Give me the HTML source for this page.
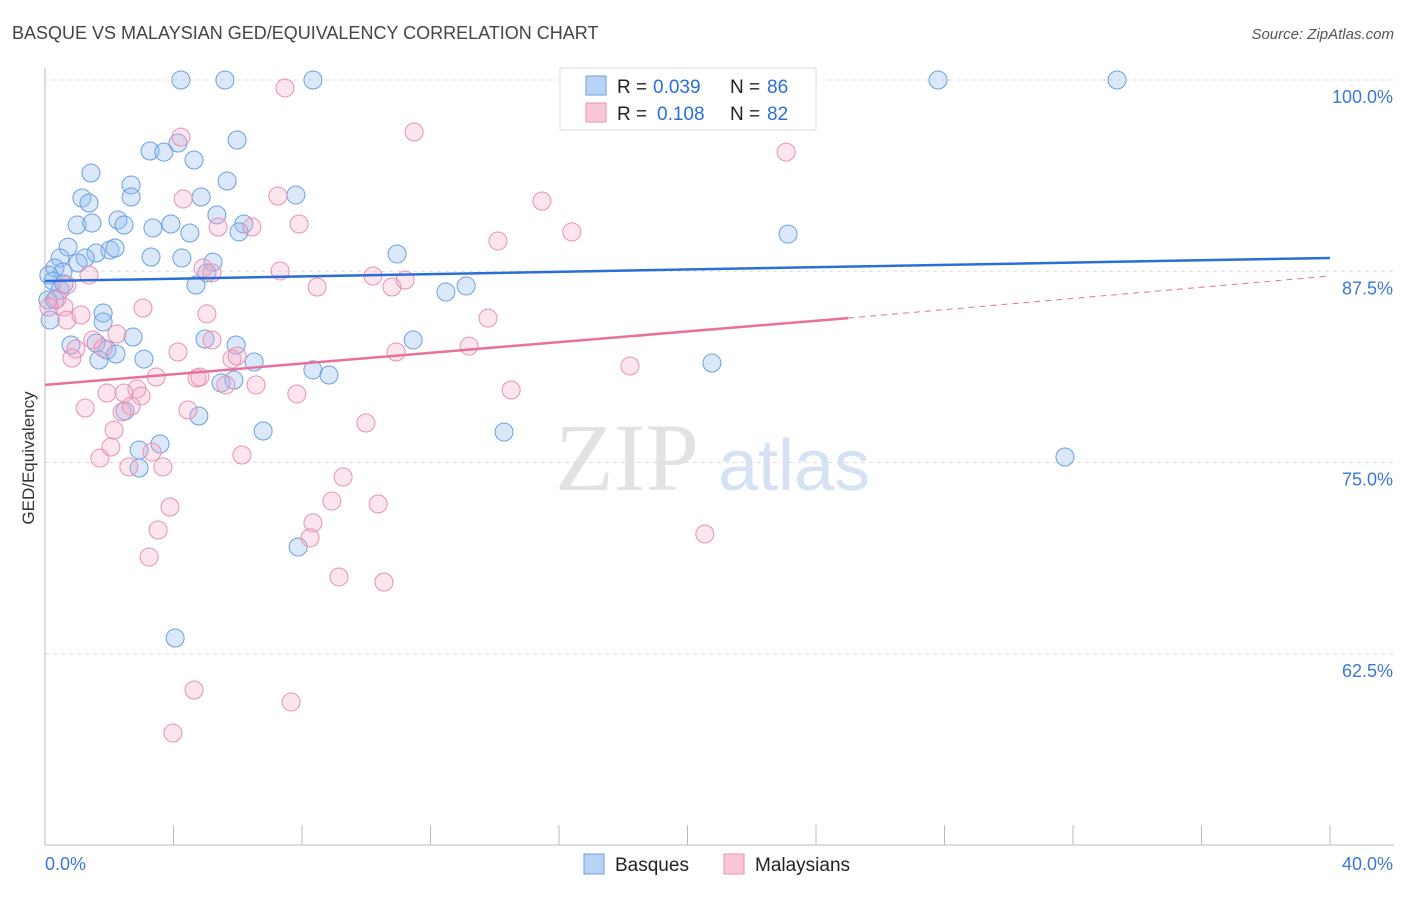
<!DOCTYPE html>
<html><head><meta charset="utf-8"><style>
body{margin:0;background:#fff;font-family:"Liberation Sans",sans-serif}
#wrap{position:relative;width:1406px;height:892px}
</style></head><body>
<div id="wrap">
<svg id="svg" width="1406" height="892" xmlns="http://www.w3.org/2000/svg" font-family="Liberation Sans, sans-serif">
<text x="12" y="39" font-size="18" fill="#444">BASQUE VS MALAYSIAN GED/EQUIVALENCY CORRELATION CHART</text>
<text x="1394" y="39" font-size="15" fill="#555" font-style="italic" text-anchor="end">Source: ZipAtlas.com</text>
<text x="34" y="458" font-size="17" fill="#333" transform="rotate(-90 34 458)" text-anchor="middle">GED/Equivalency</text>
<g><text x="555" y="490" font-size="96" fill="#e2e2e2" font-family="Liberation Serif, serif">ZIP</text><text x="718" y="490" font-size="72" fill="#d5e2f4">atlas</text></g>
<g id="grid"></g><g id="axes"></g><g id="pts"></g><g id="lines"></g>
<g>
<rect x="560" y="68" width="256" height="62" fill="#fff" stroke="#ddd"/>
<rect x="586" y="76" width="20" height="19" fill="#b9d3f6" stroke="#6a9fe0"/>
<text x="617" y="93" font-size="19" fill="#222">R =</text>
<text x="653" y="93" font-size="19" fill="#2a6fd8">0.039</text>
<text x="730" y="93" font-size="19" fill="#222">N =</text>
<text x="767" y="93" font-size="19" fill="#2a6fd8">86</text>
<rect x="586" y="103" width="20" height="19" fill="#f9c7d8" stroke="#e890b0"/>
<text x="617" y="120" font-size="19" fill="#222">R =</text>
<text x="657" y="120" font-size="19" fill="#2a6fd8">0.108</text>
<text x="730" y="120" font-size="19" fill="#222">N =</text>
<text x="767" y="120" font-size="19" fill="#2a6fd8">82</text>
</g>
<g>
<rect x="584" y="854" width="20" height="20" fill="#b9d3f6" stroke="#6a9fe0"/>
<text x="615" y="871" font-size="19" fill="#222">Basques</text>
<rect x="724" y="854" width="20" height="20" fill="#f9c7d8" stroke="#e890b0"/>
<text x="755" y="871" font-size="19" fill="#222">Malaysians</text>
</g>
</svg></div>
<script>
const xTicks=[0,40];
const yTicks=[100,87.5,75,62.5];
const blueX=[4.23,5.60,8.34,27.80,33.37,5.98,3.27,3.70,4.14,4.64,1.43,5.67,2.68,7.81,1.15,4.86,1.37,2.68,5.35,2.27,1.00,1.46,2.46,3.92,3.36,6.19,6.04,4.51,23.13,0.72,2.02,2.18,1.59,3.30,10.96,0.47,1.25,1.03,4.26,5.23,0.31,0.56,0.12,5.04,4.70,0.25,0.59,12.48,13.11,0.47,1.81,1.81,2.74,4.98,5.95,0.81,1.59,11.46,1.93,1.68,2.21,3.08,6.51,20.76,8.34,8.84,5.48,5.88,2.49,4.79,6.79,14.29,3.58,2.93,2.93,31.75,7.88,4.05,0.16,0.09,0.31];
const blueY=[100,100,100,100,100,96.08,95.36,95.29,95.88,94.77,93.92,93.40,93.14,92.48,92.29,92.35,91.96,92.35,91.18,90.85,90.52,90.65,90.52,90.59,90.33,90.59,90.07,90.00,89.93,89.08,88.89,89.02,88.69,88.43,88.63,88.37,88.37,88.04,88.37,88.10,87.71,87.45,87.25,87.39,86.60,86.86,86.67,86.14,86.54,86.27,84.77,84.18,83.20,83.07,82.68,82.68,82.81,83.01,82.35,81.70,82.09,81.76,81.57,81.50,81.05,80.72,80.20,80.39,78.37,78.04,77.06,76.99,76.21,75.82,74.64,75.36,69.48,63.53,84.31,85.62,85.62];
const pinkX=[7.47,4.23,11.49,23.07,4.30,7.25,15.47,5.39,6.44,7.91,16.40,14.10,4.92,5.20,7.32,10.21,8.47,10.80,11.21,1.37,0.68,0.37,0.59,3.05,0.12,0.68,1.12,5.04,13.79,2.24,1.49,5.20,13.20,0.96,1.81,4.14,10.93,5.82,0.84,5.98,18.21,3.46,4.73,4.82,5.63,6.57,2.86,1.93,2.46,2.99,7.84,14.51,1.25,2.68,2.40,4.45,9.99,2.15,2.05,1.71,3.33,6.13,2.61,3.67,9.28,3.89,8.93,10.37,8.34,3.52,8.25,20.54,3.24,9.15,10.55,4.64,7.66,3.98];
const pinkY=[99.48,96.27,96.60,95.29,92.22,92.42,92.09,90.39,90.39,90.59,90.07,89.48,87.71,87.39,87.52,87.19,86.47,86.47,86.93,87.25,86.60,85.69,85.16,85.10,85.16,84.31,84.64,84.71,84.44,83.40,83.01,83.01,82.61,82.42,82.48,82.22,82.22,81.76,81.83,81.96,81.31,80.59,80.52,80.59,80.07,80.07,79.80,79.54,79.54,79.35,79.48,79.74,78.56,78.69,78.30,78.43,77.58,77.12,76.01,75.29,75.69,75.49,74.71,74.71,74.05,72.09,72.48,72.29,71.05,70.59,70.07,70.33,68.82,67.52,67.19,60.13,59.35,57.32];
const blueTrend=[86.86,88.37];
const pinkTrend=[80.07,84.44,87.19];
const NS='http://www.w3.org/2000/svg';
const X=v=>45+v*(1285/40);
const Y=v=>80+(100-v)*15.3;
function mk(tag,attrs,parent){const e=document.createElementNS(NS,tag);for(const k in attrs)e.setAttribute(k,attrs[k]);document.getElementById(parent).appendChild(e);return e;}
yTicks.forEach(t=>{
 const l=mk('line',{x1:45,x2:1394,y1:Y(t),y2:Y(t),stroke:'#ddd','stroke-dasharray':'4 4'},'grid');
 
 
 const tx=mk('text',{x:1393,y:Y(t)+23,'font-size':18,fill:'#3a78d8','text-anchor':'end'},'axes');
 tx.textContent=t.toFixed(1)+'%';
 
 
});
mk('line',{x1:45,x2:45,y1:68,y2:845,stroke:'#bbb'},'axes');
mk('line',{x1:45,x2:1394,y1:845,y2:845,stroke:'#bbb'},'axes');
for(let i=0;i<=10;i++){mk('line',{x1:X(i*4),x2:X(i*4),y1:825,y2:845,stroke:'#bbb'},'axes');}
xTicks.forEach((t,i)=>{
 const tx=mk('text',{x:i?1393:45,y:870,'font-size':18,fill:'#3a78d8','text-anchor':i?'end':'start'},'axes');
 tx.textContent=t.toFixed(1)+'%';
 
 
});
blueX.forEach((v,i)=>{
 const c=mk('circle',{cx:X(v),cy:Y(blueY[i]),r:9,fill:'rgba(150,190,240,0.35)',stroke:'#6a9fe0','stroke-width':1},'pts');
 
 
});
pinkX.forEach((v,i)=>{
 const c=mk('circle',{cx:X(v),cy:Y(pinkY[i]),r:9,fill:'rgba(245,170,200,0.3)',stroke:'#e890b0','stroke-width':1},'pts');
 
 
});
const bl=mk('line',{x1:X(0),y1:Y(blueTrend[0]),x2:X(40),y2:Y(blueTrend[1]),stroke:'#2a6fd8','stroke-width':2.5},'lines');


const pl=mk('line',{x1:X(0),y1:Y(pinkTrend[0]),x2:X(25),y2:Y(pinkTrend[1]),stroke:'#e8709a','stroke-width':2.5},'lines');


const pd=mk('line',{x1:X(25),y1:Y(pinkTrend[1]),x2:X(40),y2:Y(pinkTrend[2]),stroke:'#e8709a','stroke-width':1,'stroke-dasharray':'6 5'},'lines');


</script>
</body></html>
